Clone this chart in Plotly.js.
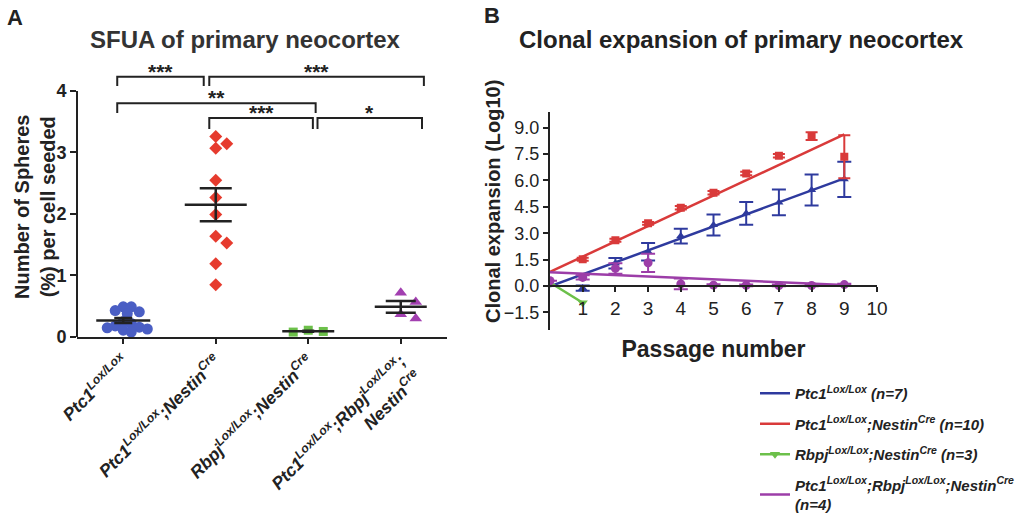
<!DOCTYPE html>
<html><head><meta charset="utf-8">
<script src="https://cdn.plot.ly/plotly-3.0.1.min.js"></script>
<style>html,body{margin:0;padding:0;background:#fff}#chart{width:1024px;height:525px}</style>
</head><body><div id="chart"></div>
<script>
// ---------- Panel A data ----------
const groupLabels = [
  'Ptc1<sup>Lox/Lox</sup>',
  'Ptc1<sup>Lox/Lox</sup>;Nestin<sup>Cre</sup>',
  'Rbpj<sup>Lox/Lox</sup>;Nestin<sup>Cre</sup>',
  'Ptc1<sup>Lox/Lox</sup>;Rbpj<sup>Lox/Lox</sup>;<br>Nestin<sup>Cre</sup>'
];
const ptc1Vals = [0.49, 0.49, 0.43, 0.41, 0.38, 0.25, 0.22, 0.18, 0.16, 0.15, 0.13, 0.11, 0.08];
const ptc1NestinVals = [3.26, 3.07, 3.14, 2.55, 2.27, 1.99, 1.64, 1.53, 1.19, 0.85];
const rbpjNestinVals = [0.11, 0.08, 0.09];
const tripleVals = [0.72, 0.57, 0.30, 0.37];

// significance brackets (category units / y units)
const bracketFrom  = [-0.065, 0.93, -0.065, 0.93, 2.10];
const bracketTo    = [0.87, 3.25, 2.08, 2.05, 3.23];
const bracketTop   = [4.23, 4.23, 3.80, 3.56, 3.56];
const bracketFoot  = [4.08, 4.08, 3.64, 3.38, 3.38];
const bracketStars = ['***', '***', '**', '***', '*'];

// ---------- Panel B data ----------
const passages = [1, 2, 3, 4, 5, 6, 7, 8, 9];
const ptc1Clonal    = [-0.12, 1.29, 1.95, 2.84, 3.47, 4.13, 4.75, 5.45, 6.06];
const ptc1ClonalSem = [0.15, 0.30, 0.50, 0.42, 0.60, 0.65, 0.73, 0.88, 1.00];
const ptc1NestinClonal    = [1.52, 2.60, 3.56, 4.45, 5.30, 6.40, 7.40, 8.52, 7.35];
const ptc1NestinClonalSem = [0.08, 0.08, 0.08, 0.10, 0.10, 0.10, 0.10, 0.22, 1.22];
const rbpjPassages = [0, 1];
const rbpjNestinClonal = [0.2, -0.95];
const triplePassages = [0, 1, 2, 3, 4, 5, 6, 7, 8, 9];
const tripleClonal    = [0.30, 0.49, 1.00, 1.32, 0.12, 0.05, 0.04, 0.03, 0.03, 0.08];
const tripleClonalSem = [0.00, 0.12, 0.30, 0.52, 0.30, 0.05, 0.05, 0.05, 0.05, 0.05];
const fitX = [0, 9];
const fitPtc1 = [-0.02, 6.12];
const fitPtc1Nestin = [0.80, 8.62];
const fitTriple = [0.78, 0.06];

const legendNames = [
  'Ptc1<sup>Lox/Lox</sup> (n=7)',
  'Ptc1<sup>Lox/Lox</sup>;Nestin<sup>Cre</sup> (n=10)',
  'Rbpj<sup>Lox/Lox</sup>;Nestin<sup>Cre</sup> (n=3)',
  'Ptc1<sup>Lox/Lox</sup>;Rbpj<sup>Lox/Lox</sup>;Nestin<sup>Cre</sup><br>(n=4)'
];

// ---------- helpers ----------
const FONT = 'Liberation Sans, Arial, sans-serif';
const INK = '#222';
const mean = a => a.reduce((s, v) => s + v, 0) / a.length;
const sem = a => { const m = mean(a); const sd = Math.sqrt(a.reduce((s, v) => s + (v - m) * (v - m), 0) / (a.length - 1)); return sd / Math.sqrt(a.length); };

// simple beeswarm (pixel-space collision avoidance)
const Y_PX = 61.5, X_PX = 92.3;
function swarm(vals, diam) {
  const order = vals.map((v, i) => i).sort((a, b) => vals[b] - vals[a]);
  const placed = [], off = new Array(vals.length).fill(0);
  const step = diam * 0.5;
  order.forEach(i => {
    for (let k = 0; k < 60; k++) {
      const m = k === 0 ? 0 : (k % 2 ? Math.ceil(k / 2) : -k / 2);
      const ox = m * step;
      const ok = placed.every(p => { const dx = ox - p.x, dy = (vals[i] - p.v) * Y_PX; return dx * dx + dy * dy >= diam * diam * 0.92; });
      if (ok) { placed.push({ x: ox, v: vals[i] }); off[i] = ox / X_PX; break; }
    }
  });
  return off;
}

const groups = [
  { vals: ptc1Vals, color: '#4a5ec4', symbol: 'circle', size: 11, diam: 8, half: 27, cap: 9 },
  { vals: ptc1NestinVals, color: '#e63b2e', symbol: 'diamond', size: 10, diam: 11, half: 31, cap: 16 },
  { vals: rbpjNestinVals, color: '#6cc04a', symbol: 'square', size: 9, diam: 15, half: 26, cap: 6 },
  { vals: tripleVals, color: '#a23fb0', symbol: 'triangle-up', size: 11, diam: 15, half: 26, cap: 15 }
];

const traces = [];
groups.forEach((g, gi) => {
  const off = swarm(g.vals, g.diam);
  traces.push({
    type: 'scatter', mode: 'markers', xaxis: 'x', yaxis: 'y', showlegend: false, cliponaxis: false,
    x: g.vals.map((v, i) => gi + off[i]), y: g.vals,
    marker: { color: g.color, symbol: g.symbol, size: g.size, line: { width: 0 } }
  });
});
groups.forEach((g, gi) => {
  traces.push({
    type: 'scatter', mode: 'markers', xaxis: 'x', yaxis: 'y', showlegend: false, cliponaxis: false,
    x: [gi], y: [mean(g.vals)],
    marker: { symbol: 'line-ew', size: g.half / 0.7, color: INK, line: { width: 2.5, color: INK } },
    error_y: { type: 'data', array: [sem(g.vals)], visible: true, color: INK, thickness: 2.5, width: g.cap }
  });
});

// Panel B
const blueB = '#2e3a9e', redB = '#d93a3a', greenB = '#6cc04a', purpleB = '#9c3ea8';
traces.push({ type: 'scatter', mode: 'lines', xaxis: 'x2', yaxis: 'y2', x: fitX, y: fitPtc1, name: legendNames[0], legendgroup: 'g1', line: { color: blueB, width: 2.5 } });
traces.push({ type: 'scatter', mode: 'markers', xaxis: 'x2', yaxis: 'y2', x: passages, y: ptc1Clonal, showlegend: false, legendgroup: 'g1',
  marker: { color: blueB, symbol: 'triangle-up', size: 8 },
  error_y: { type: 'data', array: ptc1ClonalSem, color: blueB, thickness: 2, width: 7 } });
traces.push({ type: 'scatter', mode: 'lines', xaxis: 'x2', yaxis: 'y2', x: fitX, y: fitPtc1Nestin, name: legendNames[1], legendgroup: 'g2', line: { color: redB, width: 2.5 } });
traces.push({ type: 'scatter', mode: 'markers', xaxis: 'x2', yaxis: 'y2', x: passages, y: ptc1NestinClonal, showlegend: false, legendgroup: 'g2',
  marker: { color: redB, symbol: 'square', size: 8 },
  error_y: { type: 'data', array: ptc1NestinClonalSem, color: redB, thickness: 2, width: 6 } });
traces.push({ type: 'scatter', mode: 'lines+markers', xaxis: 'x2', yaxis: 'y2', x: rbpjPassages, y: rbpjNestinClonal, name: legendNames[2], legendgroup: 'g3',
  line: { color: greenB, width: 2.5 }, marker: { color: greenB, symbol: 'triangle-down', size: 9 } });
traces.push({ type: 'scatter', mode: 'markers', xaxis: 'x2', yaxis: 'y2', x: triplePassages, y: tripleClonal, showlegend: false, legendgroup: 'g4',
  marker: { color: purpleB, symbol: 'circle', size: 9 },
  error_y: { type: 'data', array: tripleClonalSem, color: purpleB, thickness: 2, width: 7 } });
traces.push({ type: 'scatter', mode: 'lines', xaxis: 'x2', yaxis: 'y2', x: fitX, y: fitTriple, name: legendNames[3], legendgroup: 'g4', line: { color: purpleB, width: 2.5 } });

// shapes & annotations
const shapes = [
  { type: 'line', xref: 'x domain', yref: 'y', x0: 0, x1: 0, y0: 0, y1: 4, line: { color: INK, width: 2 } }
];
const annotations = [];
bracketStars.forEach((s, i) => {
  shapes.push({ type: 'path', xref: 'x', yref: 'y', line: { color: INK, width: 2 },
    path: `M${bracketFrom[i]},${bracketFoot[i]} L${bracketFrom[i]},${bracketTop[i]} L${bracketTo[i]},${bracketTop[i]} L${bracketTo[i]},${bracketFoot[i]}` });
  annotations.push({ xref: 'x', yref: 'y', x: (bracketFrom[i] + bracketTo[i]) / 2, y: bracketTop[i], text: '<b>' + s + '</b>',
    showarrow: false, yanchor: 'bottom', yshift: -8, font: { family: FONT, size: 21, color: INK } });
});
annotations.push(
  { xref: 'paper', yref: 'paper', x: 5 / 1024, y: 1 - 18 / 525, xanchor: 'left', yanchor: 'middle', showarrow: false,
    text: '<b>A</b>', font: { family: FONT, size: 22, color: INK } },
  { xref: 'paper', yref: 'paper', x: 482 / 1024, y: 1 - 15 / 525, xanchor: 'left', yanchor: 'middle', showarrow: false,
    text: '<b>B</b>', font: { family: FONT, size: 22, color: INK } },
  { xref: 'paper', yref: 'paper', x: 245 / 1024, y: 1 - 39 / 525, xanchor: 'center', yanchor: 'middle', showarrow: false,
    text: '<b>SFUA of primary neocortex</b>', font: { family: FONT, size: 24, color: '#333' } },
  { xref: 'paper', yref: 'paper', x: 741 / 1024, y: 1 - 39 / 525, xanchor: 'center', yanchor: 'middle', showarrow: false,
    text: '<b>Clonal expansion of primary neocortex</b>', font: { family: FONT, size: 24, color: INK } },
  { xref: 'paper', yref: 'paper', x: 35 / 1024, y: 1 - 207 / 525, xanchor: 'center', yanchor: 'middle', showarrow: false,
    textangle: -90, text: '<b>Number of Spheres<br>(%) per cell seeded</b>', font: { family: FONT, size: 20, color: INK } },
  { xref: 'paper', yref: 'paper', x: 493 / 1024, y: 1 - 202 / 525, xanchor: 'center', yanchor: 'middle', showarrow: false,
    textangle: -90, text: '<b>Clonal expansion (Log10)</b>', font: { family: FONT, size: 20, color: INK } }
);

const layout = {
  width: 1024, height: 525,
  margin: { l: 0, r: 0, t: 0, b: 0, autoexpand: false },
  paper_bgcolor: '#fff', plot_bgcolor: 'rgba(0,0,0,0)',
  font: { family: FONT, color: INK },
  showlegend: true,
  legend: { x: 755 / 1024, y: 1 - 377 / 525, xanchor: 'left', yanchor: 'top', tracegroupgap: 8,
    font: { family: FONT, size: 15, color: INK, weight: 'bold', style: 'italic' }, bgcolor: 'rgba(0,0,0,0)' },
  xaxis: {
    domain: [77 / 1024, 447 / 1024], range: [-0.5, 3.5], anchor: 'y', automargin: false,
    showgrid: false, zeroline: false, showline: true, linecolor: INK, linewidth: 2,
    ticks: 'outside', ticklen: 5, tickwidth: 2, tickcolor: INK,
    tickvals: [0, 1, 2, 3], ticktext: groupLabels, tickangle: -45,
    tickfont: { family: FONT, size: 17.5, color: INK, weight: 'bold', style: 'italic' }
  },
  yaxis: {
    domain: [1 - 337 / 525, 1 - 63.3 / 525], range: [0, 4.45], anchor: 'x', automargin: false,
    showgrid: false, zeroline: false, showline: false,
    ticks: 'outside', ticklen: 6, tickwidth: 2, tickcolor: INK,
    tickvals: [0, 1, 2, 3, 4], ticktext: ['0', '1', '2', '3', '4'],
    tickfont: { family: FONT, size: 18, color: INK, weight: 'bold' }
  },
  xaxis2: {
    domain: [550 / 1024, 877 / 1024], range: [0, 10], anchor: 'free', position: 1 - 286 / 525, automargin: false,
    showgrid: false, zeroline: false, showline: true, linecolor: INK, linewidth: 2,
    ticks: 'outside', ticklen: 5, tickwidth: 2, tickcolor: INK,
    tickvals: [1, 2, 3, 4, 5, 6, 7, 8, 9, 10],
    tickfont: { family: FONT, size: 19, color: INK },
    title: { text: 'Passage number', standoff: 22, font: { family: FONT, size: 23, color: INK, weight: 'bold' } }
  },
  yaxis2: {
    domain: [1 - 330 / 525, 1 - 111.8 / 525], range: [-2.5, 9.9], anchor: 'x2', automargin: false,
    showgrid: false, zeroline: false, showline: true, linecolor: INK, linewidth: 2,
    ticks: 'outside', ticklen: 5, tickwidth: 2, tickcolor: INK,
    tickvals: [-1.5, 0, 1.5, 3, 4.5, 6, 7.5, 9], tickformat: '.1f',
    tickfont: { family: FONT, size: 18, color: INK }
  },
  shapes: shapes,
  annotations: annotations
};

Plotly.newPlot('chart', traces, layout, { displayModeBar: false, staticPlot: true });
</script></body></html>
